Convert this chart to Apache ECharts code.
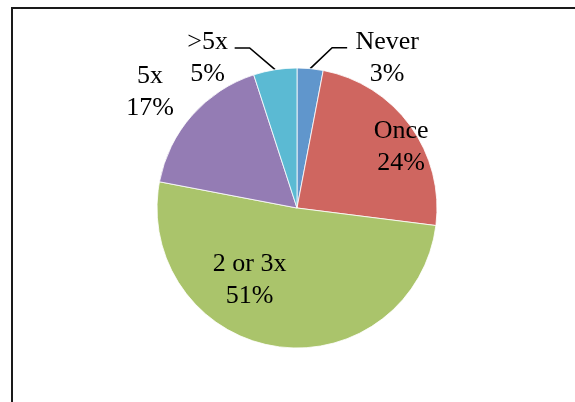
<!DOCTYPE html>
<html>
<head>
<meta charset="utf-8">
<script src="https://cdn.jsdelivr.net/npm/echarts@6/dist/echarts.min.js"></script>
<style>
  html, body { margin: 0; padding: 0; background: #fff; }
  #chart { width: 575px; height: 402px; }
</style>
</head>
<body>
<div id="chart"></div>
<script>
// data
const categories = ["Never", "Once", "2 or 3x", "5x", ">5x"];
const shares = [3, 24, 51, 17, 5];

const colors = ["#6096CC", "#CF6660", "#AAC46B", "#947CB4", "#5BBAD3"];
// label placement per slice
const labelPos = ["outside", "inside", "inside", "outside", "outside"];
const labelBoxW = [70, 60, 90, 50, 44];
const labelShift = [[0, 0], [45, -18], [-36, 0], [-12, -23], [0, 0]];
const lineLen = [[21, 35], [0, 0], [0, 0], [0, 0], [22, 37]];
// bend of the leader line elbow, sideways (Excel style diagonal)
const elbowShift = [20, 0, 0, 0, -22];

const chart = echarts.init(document.getElementById("chart"));

const pieData = categories.map(function (name, i) {
  const outside = labelPos[i] === "outside";
  const showLine = outside && lineLen[i][0] > 0;
  return {
    name: name,
    value: shares[i],
    itemStyle: { color: colors[i] },
    label: {
      position: labelPos[i],
      formatter: "{t|{b}}\n{t|{d}%}",
      padding: showLine ? [20, 0, 0, 0] : 0,
      rich: {
        t: {
          width: labelBoxW[i],
          align: "center",
          fontFamily: "Liberation Serif",
          fontSize: 26,
          lineHeight: 32,
          color: "#000",
        },
      },
    },
    labelLine: {
      show: showLine,
      length: lineLen[i][0],
      length2: lineLen[i][1],
      smooth: false,
      lineStyle: { color: "#000", width: 1.6 },
    },
  };
});

const option = {
  animation: false,
  graphic: [
    {
      type: "rect",
      shape: { x: 12, y: 8, width: 620, height: 440 },
      style: { fill: "none", stroke: "#1a1a1a", lineWidth: 2 },
    },
  ],
  series: [
    {
      type: "pie",
      center: [297, 208],
      radius: 140,
      startAngle: 90,
      clockwise: true,
      avoidLabelOverlap: false,
      itemStyle: { borderColor: "#ffffff", borderWidth: 0.8 },
      emphasis: { disabled: true },
      label: {
        show: true,
        distanceToLabelLine: 5,
      },
      labelLayout: function (p) {
        const i = p.dataIndex;
        const s = labelShift[i];
        const out = {};
        if (s[0] !== 0 || s[1] !== 0) {
          out.dx = s[0];
          out.dy = s[1];
        }
        const pts = p.labelLinePoints;
        if (pts && pts.length === 3 && elbowShift[i] !== 0) {
          out.labelLinePoints = [
            pts[0],
            [pts[1][0] + elbowShift[i], pts[1][1]],
            pts[2],
          ];
        }
        return out;
      },
      data: pieData,
    },
  ],
};

chart.setOption(option);
</script>
</body>
</html>
